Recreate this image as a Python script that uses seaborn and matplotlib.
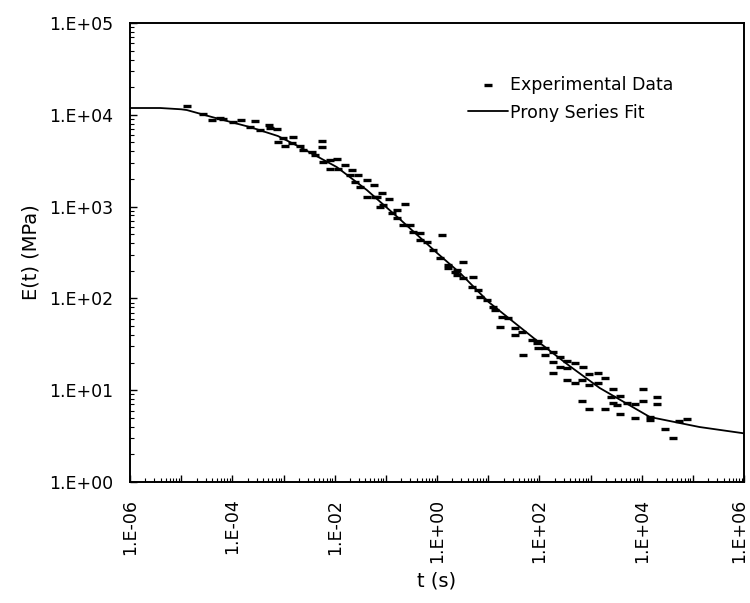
import numpy as np
import pandas as pd
import seaborn as sns
import matplotlib
matplotlib.use("Agg")
import matplotlib.pyplot as plt
import matplotlib.transforms as mtransforms
from matplotlib.ticker import FixedLocator, FuncFormatter, LogLocator, NullFormatter

# ---- data (stored as log10 exponents) ----
log_t_data = [-4.89, -4.57, -4.40, -4.24, -4.18, -3.99, -3.83, -3.66, -3.56, -3.46, -3.29, -3.27, -3.13, -3.11,
              -3.01, -2.82, -2.97, -2.84, -2.68, -2.62, -2.45, -2.25, -2.25, -2.39, -2.23, -2.09, -1.96, -1.80,
              -2.09, -1.94, -1.66, -1.70, -1.55, -1.37, -1.61, -1.51, -1.37, -1.18, -1.12,
              -1.23, -1.08, -1.21, -0.94, -1.06, -0.63, -0.88, -0.79, -0.79, -0.67, -0.53, -0.47, -0.34, -0.34,
              -0.20, 0.09, -0.08, 0.05, 0.21, 0.39, 0.39,
              0.21, 0.35, 0.50, 0.50, 0.70, 0.68, 0.80, 0.84, 0.97, 1.09, 1.13, 1.27, 1.38, 1.23, 1.52, 1.52,
              1.66, 1.85, 1.95,
              1.97, 1.68, 1.97, 2.11, 2.11, 2.26, 2.26, 2.40, 2.40, 2.55, 2.69, 2.26, 2.54, 2.85, 2.98, 3.14,
              2.55, 2.69, 3.14, 3.28, 2.83, 2.98, 3.43, 3.41, 2.83, 2.98, 3.28, 3.51,
              3.57, 3.43, 3.71, 3.86, 4.02, 4.02, 4.29, 4.29, 3.57, 3.86, 4.16, 4.16, 4.45, 4.61, 4.72, 4.88]
log_E_data = [4.10, 4.01, 3.94, 3.97, 3.95, 3.92, 3.94, 3.87, 3.93, 3.83, 3.89, 3.86, 3.85, 3.70,
              3.75, 3.76, 3.66, 3.69, 3.66, 3.62, 3.59, 3.71, 3.65, 3.56, 3.49, 3.51, 3.52, 3.45,
              3.41, 3.41, 3.40, 3.34, 3.34, 3.29, 3.27, 3.21, 3.10, 3.10, 3.00,
              3.24, 3.15, 3.10, 3.08, 3.02, 3.03, 2.93, 2.96, 2.88, 2.80, 2.80, 2.72, 2.71, 2.64,
              2.61, 2.69, 2.53, 2.44, 2.36, 2.31, 2.25,
              2.33, 2.29, 2.40, 2.22, 2.23, 2.12, 2.09, 2.02, 1.98, 1.91, 1.87, 1.80, 1.79, 1.69, 1.68, 1.60,
              1.63, 1.55, 1.51,
              1.54, 1.38, 1.46, 1.46, 1.38, 1.42, 1.31, 1.36, 1.25, 1.32, 1.30, 1.19, 1.24, 1.25, 1.18, 1.19,
              1.11, 1.08, 1.08, 1.13, 1.11, 1.06, 1.01, 0.93, 0.88, 0.80, 0.80, 0.84,
              0.94, 0.86, 0.86, 0.85, 1.01, 0.88, 0.93, 0.85, 0.74, 0.70, 0.71, 0.68, 0.58, 0.48, 0.66, 0.69]

log_t_fit = [-6.00, -5.41, -5.00, -4.89, -4.40, -3.66, -3.11, -2.68, -1.96, -1.37, -0.73, 0.00, 0.45,
             1.01, 2.01, 2.59, 3.18, 4.16, 5.13, 6.00]
log_E_fit = [4.074, 4.074, 4.060, 4.052, 3.976, 3.867, 3.769, 3.649, 3.431, 3.180, 2.865, 2.495, 2.277,
             1.960, 1.514, 1.264, 1.024, 0.708, 0.599, 0.530]

x_label = "t (s)"
y_label = "E(t) (MPa)"
series_names = ["Experimental Data", "Prony Series Fit"]

df_data = pd.DataFrame({"t": 10 ** np.array(log_t_data), "E": 10 ** np.array(log_E_data)})
df_fit = pd.DataFrame({"t": 10 ** np.array(log_t_fit), "E": 10 ** np.array(log_E_fit)})

sns.set_style("ticks")
plt.rcParams["font.family"] = ["DejaVu Sans"]
plt.rcParams["text.color"] = "black"
plt.rcParams["axes.labelcolor"] = "black"

fig = plt.figure(figsize=(7.5, 6.03), dpi=100)
ax = fig.add_axes([130 / 750, 1 - 482 / 603, 614 / 750, 459 / 603])
ax.set_xscale("log")
ax.set_yscale("log")

sns.scatterplot(data=df_data, x="t", y="E", ax=ax, marker="_", s=28, linewidth=2.4,
                color="black", label=series_names[0], zorder=3)
sns.lineplot(data=df_fit, x="t", y="E", ax=ax, color="black", linewidth=1.3,
             label=series_names[1], zorder=2, sort=False)

ax.set_xlim(1e-6, 1e6)
ax.set_ylim(1, 1e5)

xmaj = [10.0 ** e for e in range(-6, 7)]
ax.xaxis.set_major_locator(FixedLocator(xmaj))
ax.xaxis.set_major_formatter(FuncFormatter(
    lambda v, p: ("1.E%+03d" % int(round(np.log10(v)))) if int(round(np.log10(v))) % 2 == 0 else ""))
ax.xaxis.set_minor_locator(LogLocator(base=10, subs=np.arange(2, 10), numticks=100))
ax.xaxis.set_minor_formatter(NullFormatter())

ymaj = [10.0 ** e for e in range(0, 6)]
ax.yaxis.set_major_locator(FixedLocator(ymaj))
ax.yaxis.set_major_formatter(FuncFormatter(lambda v, p: "1.E%+03d" % int(round(np.log10(v)))))
ax.yaxis.set_minor_locator(LogLocator(base=10, subs=np.arange(2, 10), numticks=100))
ax.yaxis.set_minor_formatter(NullFormatter())

ax.tick_params(axis="both", which="major", direction="in", length=5, width=1.0,
               labelsize=12.5, pad=12, colors="black")
ax.tick_params(axis="both", which="minor", direction="in", length=3, width=0.8, colors="black")
ax.tick_params(axis="x", which="both", top=False, labelrotation=90)
ax.tick_params(axis="y", which="both", right=False)

for s in ax.spines.values():
    s.set_visible(True)
    s.set_linewidth(1.4)
    s.set_color("black")

ax.set_xlabel(x_label, fontsize=14, color="black")
ax.set_ylabel(y_label, fontsize=14, color="black")
ax.xaxis.set_label_coords(0.5, -0.196)
ax.yaxis.set_label_coords(-0.146, 0.5)

leg = ax.legend(loc="upper left", bbox_to_anchor=((468 - 130) / 614, (482 - 76) / 459),
                frameon=False, fontsize=12.5, borderpad=0, handlelength=2.3,
                handletextpad=0.12, labelspacing=0.55, borderaxespad=0)
for txt in leg.get_texts():
    txt.set_color("black")

# keep the right-most rotated tick label inside the canvas
fig.canvas.draw()
labels = ax.get_xticklabels()
last = labels[-1]
last.set_transform(last.get_transform() + mtransforms.ScaledTranslation(-5 / 100, 0, fig.dpi_scale_trans))

fig.savefig("out.png", dpi=100)
